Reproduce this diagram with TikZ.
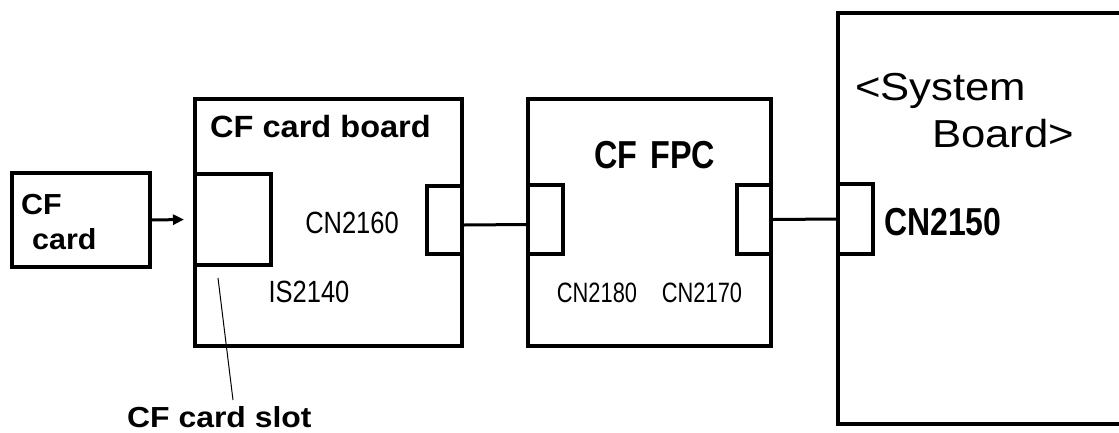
\documentclass[tikz,border=0pt]{standalone}
\usepackage{fontspec}
\usepackage{graphicx}
\setmainfont{Liberation Sans}
\usetikzlibrary{arrows.meta}
\tikzset{
  box/.style={draw, line width=3.5pt, rectangle, inner sep=0pt},
  conn/.style={line width=3pt},
  lbl/.style={inner sep=0pt, anchor=base west},
  lblc/.style={inner sep=0pt, anchor=base},
  boldtxt/.style={font=\fontsize{30.7}{36}\selectfont\bfseries},
  cntxt/.style={font=\fontsize{30.7}{36}\selectfont},
  bignarrow/.style={font=\fontsize{39}{46}\selectfont\bfseries},
}
\begin{document}
\begin{tikzpicture}[x=1pt,y=-1pt]
\useasboundingbox (0,0) rectangle (1119,432);
\clip (0,0) rectangle (1119,432);
% boxes
\node[box, minimum width=138, minimum height=94] (cfcard) at (81,220) {};
\node[box, minimum width=267, minimum height=247] (board) at (328.5,222.5) {};
\node[box, minimum width=76, minimum height=91] (slot) at (233,219.5) {};
\node[box, minimum width=35, minimum height=68] (cn2160) at (444.5,220) {};
\node[box, minimum width=243, minimum height=247] (fpc) at (649.5,222.5) {};
\node[box, minimum width=35, minimum height=69] (cn2180) at (545.5,219.5) {};
\node[box, minimum width=34, minimum height=69] (cn2170) at (754,219.5) {};
\node[box, minimum width=300, minimum height=411] (sys) at (988,218.5) {};
\node[box, minimum width=35, minimum height=70] (cn2150) at (855.5,219) {};
% connectors
\draw[conn, -{Triangle[length=11pt,width=10pt]}] (cfcard.east) -- (slot.west -| 184,0);
\draw[conn] ([yshift=-5pt]cn2160.east) -- ([yshift=-5pt]cn2180.west);
\draw[conn] (cn2170.east) -- (cn2150.west);
\coordinate (slotA) at (218,278);
\coordinate (slotB) at (233,400);
\draw[line width=1pt] (slotA) -- (slotB);
% texts
\node[lbl, font=\fontsize{29}{34}\selectfont\bfseries] (t1) at (21,214) {\scalebox{1.05}[1]{CF}};
\node[lbl, font=\fontsize{29}{34}\selectfont\bfseries] (t2) at (32,249) {\scalebox{1.05}[1]{card}};
\node[lbl, boldtxt] (t3) at (210,137) {\scalebox{1.06}[1]{CF card board}};
\node[lblc, cntxt] (t4) at (352,233) {\scalebox{0.83}[1]{CN2160}};
\node[lblc, cntxt] (t5) at (309,302) {\scalebox{0.83}[1]{IS2140}};
\node[lbl, font=\fontsize{29}{34}\selectfont\bfseries] (t6) at (127,427) {\scalebox{1.1}[1]{CF card slot}};
\node[lblc, bignarrow] (t7) at (655,168) {\scalebox{0.83}[1]{CF\hspace{0.12em} FPC}};
\node[lblc, font=\fontsize{28}{33}\selectfont] (t8) at (597,302) {\scalebox{0.78}[1]{CN2180}};
\node[lblc, font=\fontsize{28}{33}\selectfont] (t9) at (702,302) {\scalebox{0.78}[1]{CN2170}};
\node[lbl, bignarrow] (t10) at (884,235) {\scalebox{0.82}[1]{CN2150}};
\node[lbl, font=\fontsize{39}{46}\selectfont] (t11) at (855,100) {\scalebox{1.12}[1]{<System}};
\node[lbl, font=\fontsize{39}{46}\selectfont] (t12) at (932,147) {\scalebox{1.12}[1]{Board>}};
\end{tikzpicture}
\end{document}
